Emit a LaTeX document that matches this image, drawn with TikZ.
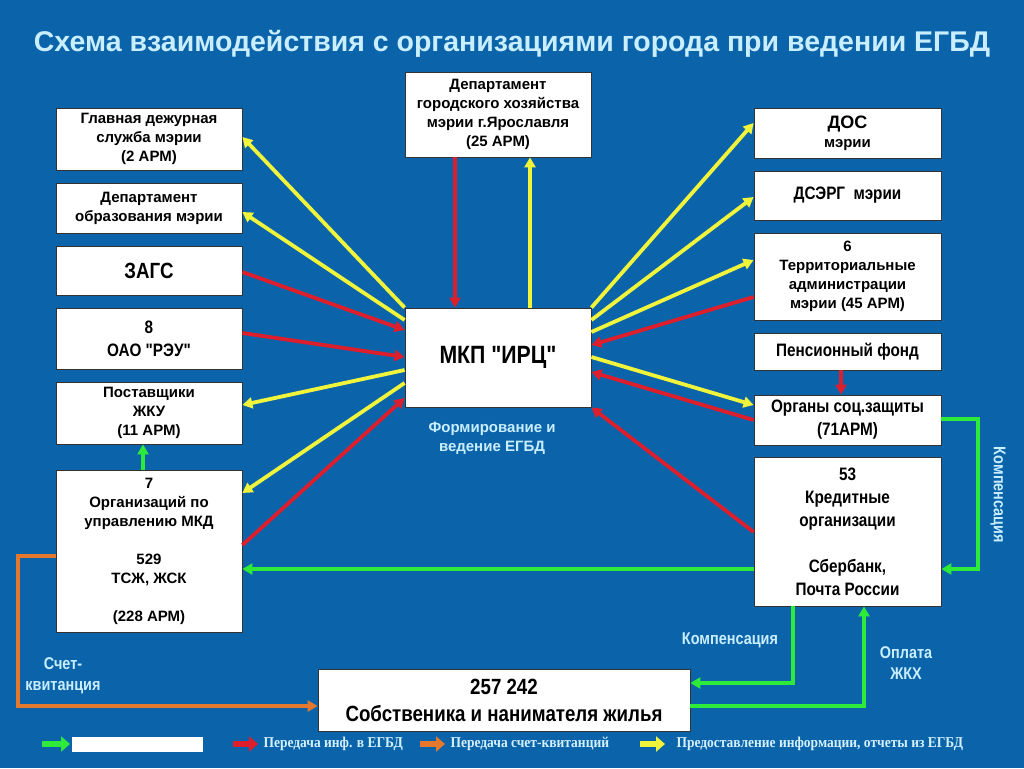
\documentclass[tikz,border=0pt]{standalone}
\usepackage{fontspec}
\setmainfont{Liberation Sans}
\newfontfamily\narrowsans[FakeStretch=0.85]{Liberation Sans}
\newfontfamily\legendserif[FakeStretch=0.9]{Liberation Serif}
\usetikzlibrary{arrows.meta}

\definecolor{bgblue}{HTML}{0B64AA}
\definecolor{ttlcyan}{HTML}{C8EEFF}
\definecolor{aryellow}{HTML}{F0F53C}
\definecolor{arred}{HTML}{DC1E2D}
\definecolor{argreen}{HTML}{2EEB3A}
\definecolor{arorange}{HTML}{E6782D}

\begin{document}
\begin{tikzpicture}[x=1pt, y=-1pt,
  orgbox/.style={draw=black!80, line width=0.8pt, fill=white, align=center, inner sep=2pt, text=black,
    font=\bfseries\fontsize{15}{19}\selectfont},
  bigtext/.style={font=\narrowsans\bfseries\fontsize{18}{23}\selectfont},
  flow/.style={line width=3.8pt, line join=miter, -{Triangle[length=10pt,width=11pt]}},
  yarrow/.style={flow, draw=aryellow, color=aryellow},
  rarrow/.style={flow, draw=arred, color=arred},
  garrow/.style={flow, draw=argreen, color=argreen},
  oarrow/.style={flow, draw=arorange, color=arorange},
  legarrow/.style={line width=6pt, -{Triangle[length=9pt,width=15pt]}},
  legtext/.style={anchor=west, text=ttlcyan!80!white, font=\legendserif\bfseries\fontsize{15}{17}\selectfont},
  lbl/.style={text=ttlcyan, align=center, font=\narrowsans\bfseries\fontsize{17}{21}\selectfont}]

  % background and title
  \fill[bgblue] (0,0) rectangle (1024,768);
  \node[text=ttlcyan, font=\bfseries\fontsize{28.5}{31}\selectfont] (title) at (512,44)
    {Схема взаимодействия с организациями города при ведении ЕГБД};

  % left column
  \node[orgbox, minimum width=186pt, minimum height=62pt] (gds) at (149,139)
    {Главная дежурная\\служба мэрии\\(2 АРМ)};
  \node[orgbox, minimum width=186pt, minimum height=50pt] (dobr) at (149,208)
    {Департамент\\образования мэрии};
  \node[orgbox, bigtext, font=\narrowsans\bfseries\fontsize{22}{24}\selectfont,
    minimum width=186pt, minimum height=49pt] (zags) at (149,270.5) {ЗАГС};
  \node[orgbox, bigtext, minimum width=186pt, minimum height=61pt] (reu) at (149,338.5)
    {8\\ОАО "РЭУ"};
  \node[orgbox, minimum width=186pt, minimum height=62pt] (post) at (149,413)
    {Поставщики\\ЖКУ\\(11 АРМ)};
  \node[orgbox, minimum width=186pt, minimum height=162pt] (mkd) at (149,551)
    {7\\Организаций по\\управлению МКД\\[19pt]529\\ТСЖ, ЖСК\\[19pt](228 АРМ)};

  % centre
  \node[orgbox, minimum width=186pt, minimum height=85pt] (dgh) at (498,114.5)
    {Департамент\\городского хозяйства\\мэрии г.Ярославля\\(25 АРМ)};
  \node[orgbox, font=\narrowsans\bfseries\fontsize{25}{28}\selectfont,
    minimum width=186pt, minimum height=99pt] (irc) at (498,357.5) {МКП "ИРЦ"};
  \node[lbl, font=\bfseries\fontsize{15}{19}\selectfont] (form) at (492,438)
    {Формирование и\\ведение ЕГБД};

  % right column
  \node[orgbox, minimum width=187pt, minimum height=50pt] (dos) at (847.5,133)
    {{\fontsize{18}{19}\selectfont ДОС}\\мэрии};
  \node[orgbox, bigtext, minimum width=187pt, minimum height=49pt] (dserg) at (847.5,195.5)
    {ДСЭРГ\ \ мэрии};
  \node[orgbox, minimum width=187pt, minimum height=87pt] (ta) at (847.5,276.5)
    {6\\Территориальные\\администрации\\мэрии (45 АРМ)};
  \node[orgbox, bigtext, minimum width=187pt, minimum height=37pt] (pf) at (847.5,351.5)
    {Пенсионный фонд};
  \node[orgbox, bigtext, minimum width=187pt, minimum height=50pt] (szn) at (847.5,420)
    {Органы соц.защиты\\(71АРМ)};
  \node[orgbox, bigtext, minimum width=187pt, minimum height=149pt] (kred) at (847.5,531.5)
    {53\\Кредитные\\организации\\[23pt]Сбербанк,\\Почта России};

  % bottom
  \node[orgbox, font=\narrowsans\bfseries\fontsize{22}{27}\selectfont,
    minimum width=372pt, minimum height=62pt] (sob) at (504,700)
    {257 242\\Собственика и нанимателя жилья};

  % arrows on the left
  \draw[yarrow] (irc.north west) -- (gds.east |- 0,137);
  \draw[yarrow] (irc.west |- 0,320) -- (dobr.east |- 0,212);
  \draw[rarrow] (zags.east |- 0,272) -- (irc.west |- 0,330);
  \draw[rarrow] (reu.east |- 0,333) -- (irc.west |- 0,357);
  \draw[yarrow] (irc.west |- 0,370) -- (post.east |- 0,405);
  \draw[yarrow] (irc.west |- 0,383) -- (mkd.east |- 0,493);
  \draw[rarrow] (mkd.east |- 0,545) -- (irc.west |- 0,398);

  % arrows on top
  \draw[rarrow] (dgh.south -| 455,0) -- (irc.north -| 455,0);
  \draw[yarrow] (irc.north -| 530,0) -- (dgh.south -| 530,0);

  % arrows on the right
  \draw[yarrow] (irc.north east) -- (dos.west |- 0,123);
  \draw[yarrow] (irc.east |- 0,320) -- (dserg.west |- 0,197);
  \draw[yarrow] (irc.east |- 0,332) -- (ta.west |- 0,260);
  \draw[rarrow] (ta.west |- 0,297) -- (irc.east |- 0,345);
  \draw[yarrow] (irc.east |- 0,357) -- (szn.west |- 0,405);
  \draw[rarrow] (szn.west |- 0,420) -- (irc.east |- 0,372);
  \draw[rarrow] (kred.west |- 0,532) -- (irc.south east);
  \draw[rarrow] (pf.south -| 841,0) -- (szn.north -| 841,0);

  % green and orange flows
  \draw[garrow] (mkd.north -| 143,0) -- (post.south -| 143,0);
  \draw[garrow] (kred.west |- 0,569) -- (mkd.east |- 0,569);
  \draw[garrow] (szn.east |- 0,419) -| (978,569) -- (kred.east |- 0,569);
  \draw[garrow] (kred.south -| 793,0) |- (sob.east |- 0,683);
  \draw[garrow] (sob.east |- 0,706) -| (kred.south -| 864,0);
  \draw[oarrow] (mkd.west |- 0,556) -| (18,706) -- (sob.west |- 0,706);

  \node[lbl, rotate=-90] (komp1) at (998,495) {Компенсация};
  \node[lbl] (komp2) at (730,640) {Компенсация};
  \node[lbl] (opl) at (906,663) {Оплата\\ЖКХ};
  \node[lbl] (schet) at (63,676) {Счет-\\квитанция};

  % legend
  \draw[legarrow, argreen] (42,744) -- (70,744);
  \node[fill=white, minimum width=131pt, minimum height=15pt, inner sep=0pt] (legbox) at (137.5,744.5) {};
  \draw[legarrow, arred] (233,744) -- (258,744);
  \node[legtext] (leg1) at (260,744) {Передача инф. в ЕГБД};
  \draw[legarrow, arorange] (420,744) -- (445,744);
  \node[legtext] (leg2) at (447,744) {Передача счет-квитанций};
  \draw[legarrow, aryellow] (640,744) -- (665,744);
  \node[legtext] (leg3) at (673,744) {Предоставление информации, отчеты из ЕГБД};

\end{tikzpicture}
\end{document}
